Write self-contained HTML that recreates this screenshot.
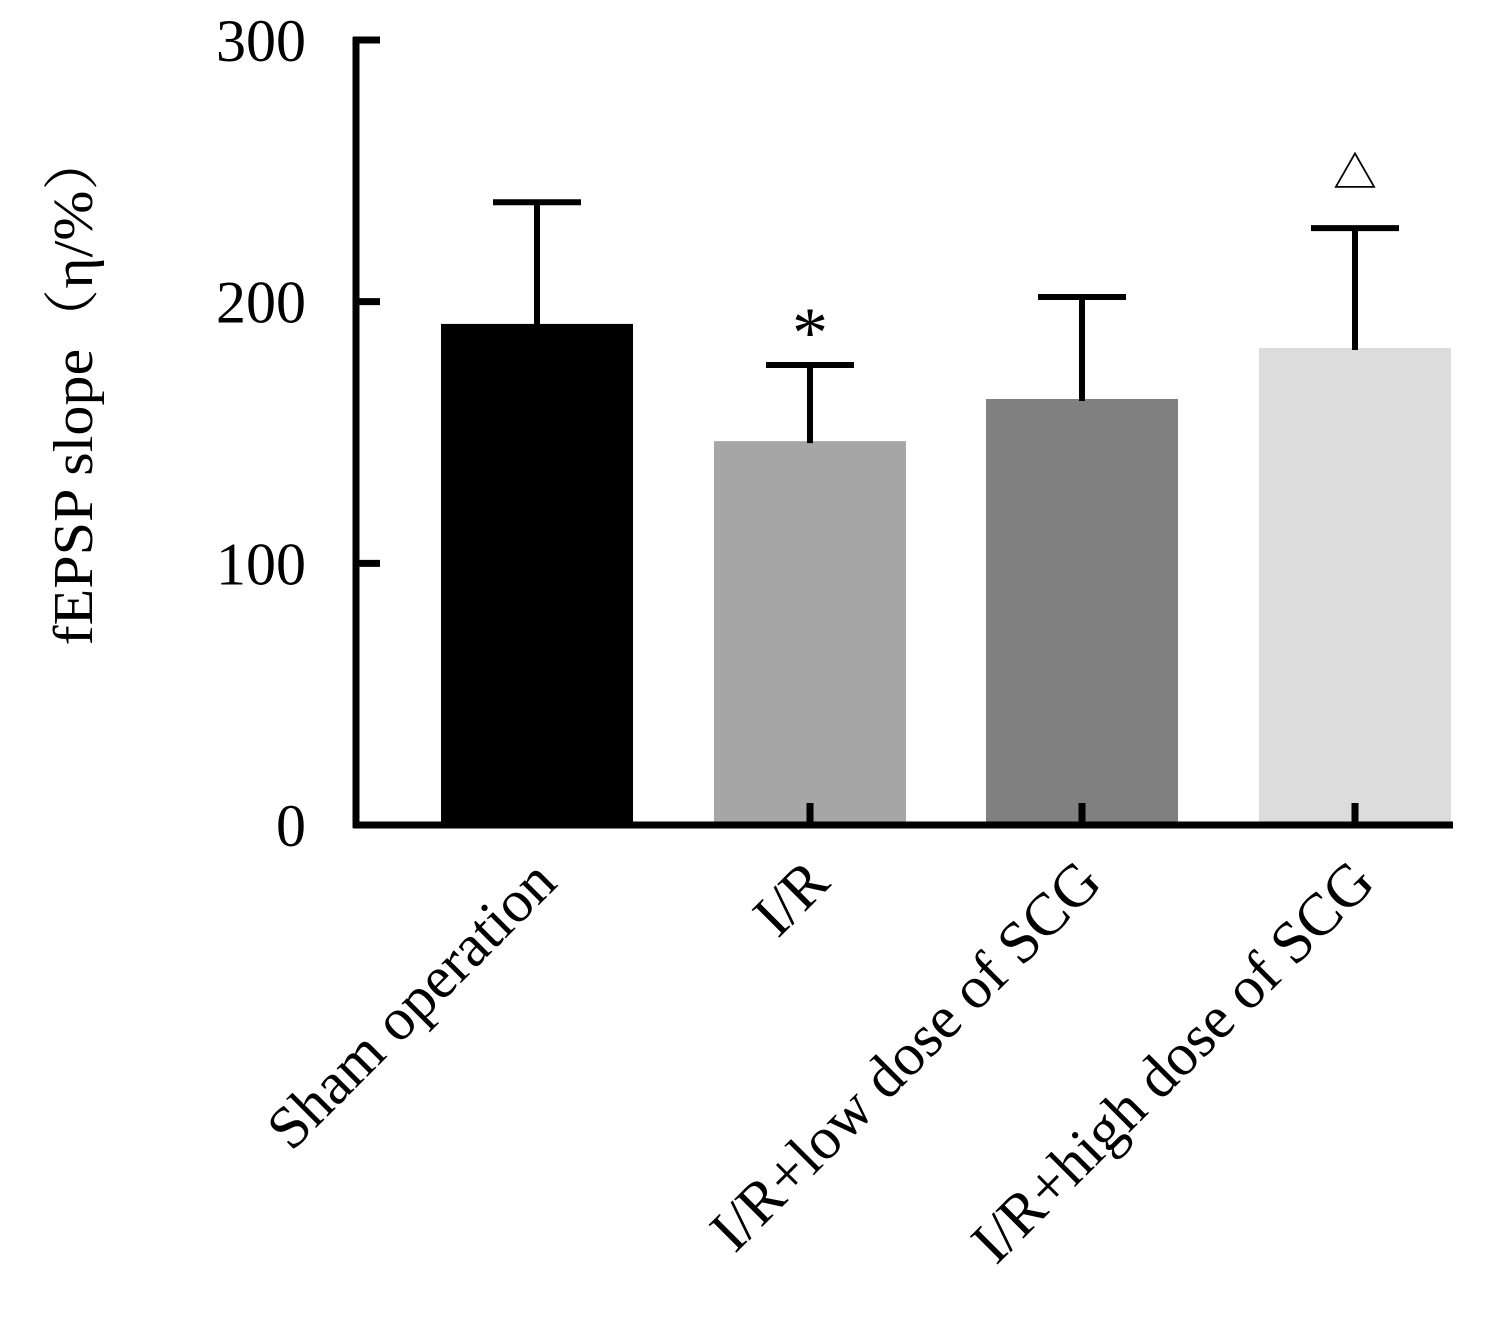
<!DOCTYPE html>
<html><head><meta charset="utf-8"><style>
html,body{margin:0;padding:0;background:#fff;}
svg{display:block;font-family:"Liberation Serif","Noto Serif CJK SC",serif;}
</style></head><body>
<svg id="chart" width="1500" height="1329" viewBox="0 0 1500 1329" xmlns="http://www.w3.org/2000/svg">
<rect width="1500" height="1329" fill="#fff"/>
<g id="bars"></g><g id="errs"></g><g id="axes"></g><g id="labels"></g>
</svg>
<script>
const categories=["Sham operation","I/R","I/R+low dose of SCG","I/R+high dose of SCG"];
const values=[191.5,146.7,162.8,182.3];
const errors=[46.5,29.1,39.0,45.8];
const colors=["#000000","#a6a6a6","#808080","#dcdcdc"];
const marks=["","*","","△"];
const yTicks=[0,100,200,300];
const NS="http://www.w3.org/2000/svg";
const y0=825,yTop=40,yMax=300;
const yS=v=>y0-(v/yMax)*(y0-yTop);
const centers=[537,810,1082,1355];
const barW=192;
const xS=i=>centers[i];
function mk(tag,attrs,parent){const e=document.createElementNS(NS,tag);for(const k in attrs)e.setAttribute(k,attrs[k]);document.getElementById(parent).appendChild(e);return e;}
categories.forEach((c,i)=>{
  const b=mk('rect',{x:xS(i)-barW/2,y:yS(values[i]),width:barW,height:y0-yS(values[i]),fill:colors[i]},'bars');
  
  
  const top=yS(values[i]+errors[i]);
  const l=mk('line',{x1:xS(i),x2:xS(i),y1:yS(values[i])+2,y2:top,stroke:'#000','stroke-width':6},'errs');
  
  
  const cp=mk('line',{x1:xS(i)-44,x2:xS(i)+44,y1:top,y2:top,stroke:'#000','stroke-width':6},'errs');
  
  
  const st=mk('line',{x1:xS(i),x2:xS(i),y1:y0,y2:y0-22,stroke:'#000','stroke-width':7},'errs');
  
  
  if(marks[i]){
    const isStar=marks[i]=='*';
    const m=mk('text',{x:xS(i),y:isStar?top-8:top-40,'font-size':isStar?72:44,'text-anchor':'middle'},'labels');
    m.textContent=marks[i];
    
    
  }
  const t=mk('text',{x:0,y:0,'font-size':60,'text-anchor':'end',transform:`translate(${xS(i)+22},${885}) rotate(-45)`},'labels');
  t.textContent=c;
  
  
});
const ya=mk('line',{x1:356,x2:356,y1:37,y2:828,stroke:'#000','stroke-width':7},'axes');


const xa=mk('line',{x1:353,x2:1453,y1:825,y2:825,stroke:'#000','stroke-width':7},'axes');


yTicks.forEach(v=>{
  if(v>0){const tk=mk('line',{x1:353,x2:380,y1:yS(v),y2:yS(v),stroke:'#000','stroke-width':7},'axes');
  
  }
  const tl=mk('text',{x:306,y:yS(v)+21,'font-size':60,'text-anchor':'end'},'labels');
  tl.textContent=v;
  
  
});
const yt=mk('text',{x:0,y:0,'font-size':56,'text-anchor':'middle',textLength:515,lengthAdjust:'spacingAndGlyphs',transform:'translate(92,388) rotate(-90)'},'labels');
yt.textContent='fEPSP slope（η/%）';


</script>
</body></html>
